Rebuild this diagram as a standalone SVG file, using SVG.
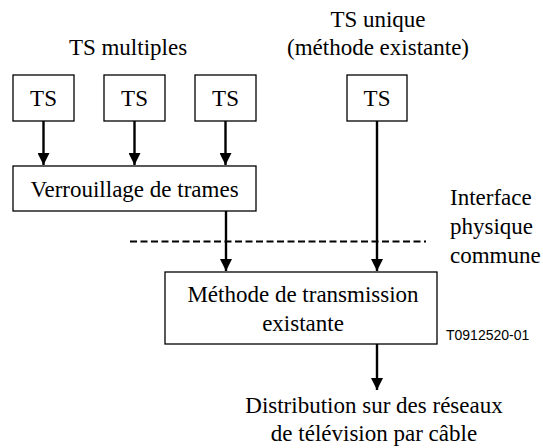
<svg xmlns="http://www.w3.org/2000/svg" width="543" height="448" viewBox="0 0 543 448">
  <defs>
    <marker id="arrow" markerWidth="12" markerHeight="12" refX="12" refY="6" orient="auto" markerUnits="userSpaceOnUse" viewBox="0 0 12 12">
      <path d="M0,0 L12,6 L0,12 Z" fill="#000"/>
    </marker>
    <style>
      .box { fill: #fff; stroke: #000; stroke-width: 1.3; }
      .lbl { font-family: 'Liberation Serif', 'Times New Roman', serif; font-size: 23px; fill: #000; }
      .mid { text-anchor: middle; }
      .ref { font-family: 'Liberation Sans', Arial, sans-serif; font-size: 14px; fill: #000; }
      .wire { stroke: #000; stroke-width: 2.4; fill: none; }
      .cut { stroke: #000; stroke-width: 2; fill: none; stroke-dasharray: 7 3.5; }
    </style>
  </defs>
  <rect width="543" height="448" fill="#fff"/>

  <!-- headings -->
  <text class="lbl mid" x="128" y="55">TS multiples</text>
  <text class="lbl mid" x="378" y="27">TS unique</text>
  <text class="lbl mid" x="378" y="55">(méthode existante)</text>

  <!-- connectors -->
  <g id="connectors">
    <line class="wire" x1="43.5" y1="121" x2="43.5" y2="165" marker-end="url(#arrow)"/>
    <line class="wire" x1="134.5" y1="121" x2="134.5" y2="165" marker-end="url(#arrow)"/>
    <line class="wire" x1="225.5" y1="121" x2="225.5" y2="165" marker-end="url(#arrow)"/>
    <line class="wire" x1="226" y1="211" x2="226" y2="271" marker-end="url(#arrow)"/>
    <line class="wire" x1="377" y1="121" x2="377" y2="271" marker-end="url(#arrow)"/>
    <line class="wire" x1="377" y1="344" x2="377" y2="390" marker-end="url(#arrow)"/>
    <line class="cut" x1="130" y1="241.5" x2="426" y2="241.5"/>
  </g>

  <!-- nodes -->
  <g id="ts1">
    <rect class="box" x="13" y="75" width="61" height="46"/>
    <text class="lbl mid" x="43.5" y="106">TS</text>
  </g>
  <g id="ts2">
    <rect class="box" x="104" y="75" width="61" height="46"/>
    <text class="lbl mid" x="134.5" y="106">TS</text>
  </g>
  <g id="ts3">
    <rect class="box" x="195" y="75" width="61" height="46"/>
    <text class="lbl mid" x="225.5" y="106">TS</text>
  </g>
  <g id="ts4">
    <rect class="box" x="347" y="75" width="60" height="46"/>
    <text class="lbl mid" x="377" y="106">TS</text>
  </g>
  <g id="verrouillage">
    <rect class="box" x="13" y="166" width="243" height="45"/>
    <text class="lbl mid" x="134.5" y="197">Verrouillage de trames</text>
  </g>
  <g id="methode">
    <rect class="box" x="165" y="272" width="272" height="72"/>
    <text class="lbl mid" x="303" y="302">Méthode de transmission</text>
    <text class="lbl mid" x="303" y="331">existante</text>
  </g>

  <!-- interface label -->
  <text class="lbl" x="450" y="205">Interface</text>
  <text class="lbl" x="450" y="234">physique</text>
  <text class="lbl" x="450" y="263">commune</text>

  <text class="ref" x="446" y="340">T0912520-01</text>

  <!-- output -->
  <text class="lbl mid" x="374" y="413">Distribution sur des réseaux</text>
  <text class="lbl mid" x="374" y="441">de télévision par câble</text>
</svg>
